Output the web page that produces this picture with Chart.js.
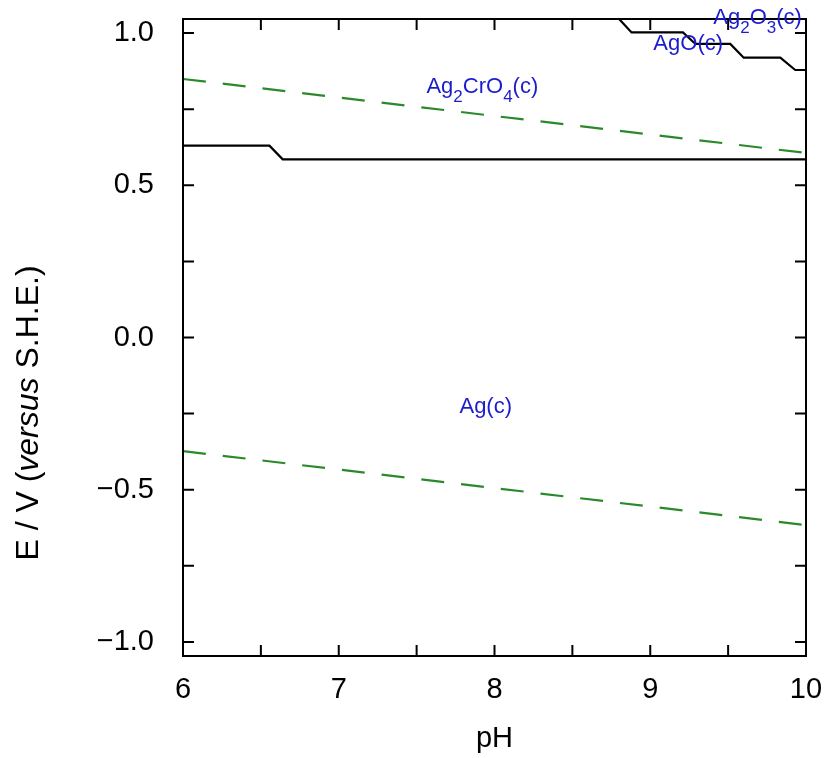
<!DOCTYPE html>
<html>
<head>
<meta charset="utf-8">
<script src="https://cdn.jsdelivr.net/npm/chart.js@4.4.0/dist/chart.umd.min.js"></script>
<style>
  html, body { margin: 0; padding: 0; background: #fff; }
  canvas { display: block; }
</style>
</head>
<body>
<canvas id="c" width="827" height="758"></canvas>
<script>
// ---- Data ----
const xTickLabels = [6, 7, 8, 9, 10];
const yTickLabels = [-1.0, -0.5, 0.0, 0.5, 1.0];
const xMinorTicks = [6, 6.5, 7, 7.5, 8, 8.5, 9, 9.5, 10];
const yMinorTicks = [-1.0, -0.75, -0.5, -0.25, 0, 0.25, 0.5, 0.75, 1.0];

// Ag(c) / Ag2CrO4(c) boundary (solid black)
const phLowBoundary = [6, 6.555, 6.64, 10];
const eLowBoundary  = [0.63, 0.63, 0.585, 0.585];

// Upper boundary (Ag2CrO4 / AgO / Ag2O3)
const phHighBoundary = [8.80, 8.88, 9.21, 9.29, 9.514, 9.60, 9.835, 9.931, 10];
const eHighBoundary  = [1.046, 1.002, 1.002, 0.964, 0.964, 0.919, 0.919, 0.8785, 0.8785];

// Water stability limits (dashed green)
const phWater = [6, 10];
const eO2 = [0.849, 0.606];
const eH2 = [-0.373, -0.616];

// Region labels ("_" marks a subscript character)
const labelTexts = ['Ag_2O_3(c)', 'AgO(c)', 'Ag_2CrO_4(c)', 'Ag(c)'];
const labelPH = [9.405, 9.02, 7.563, 7.775];
const labelE  = [1.03, 0.944, 0.802, -0.249];

const FONT = '"Liberation Sans", Arial, Helvetica, sans-serif';
const BLUE = 'rgb(28,28,205)';
const GREEN = '#2a8a2a';

function pts(xs, ys) { return xs.map((x, i) => ({x: x, y: ys[i]})); }

const framePlugin = {
  id: 'frame',
  afterDatasetsDraw(chart) {
    const {ctx, chartArea: a, scales: {x, y}} = chart;
    ctx.save();
    ctx.strokeStyle = '#000';
    ctx.lineWidth = 2;
    ctx.strokeRect(a.left, a.top, a.right - a.left, a.bottom - a.top);
    const L = 11;
    ctx.beginPath();
    xMinorTicks.forEach(v => {
      const px = x.getPixelForValue(v);
      ctx.moveTo(px, a.bottom); ctx.lineTo(px, a.bottom - L);
      ctx.moveTo(px, a.top); ctx.lineTo(px, a.top + L);
    });
    yMinorTicks.forEach(v => {
      const py = y.getPixelForValue(v);
      ctx.moveTo(a.left, py); ctx.lineTo(a.left + L, py);
      ctx.moveTo(a.right, py); ctx.lineTo(a.right - L, py);
    });
    ctx.stroke();

    // region labels
    ctx.fillStyle = BLUE;
    ctx.textBaseline = 'alphabetic';
    ctx.textAlign = 'left';
    labelTexts.forEach((t, i) => {
      let px = x.getPixelForValue(labelPH[i]);
      const py = y.getPixelForValue(labelE[i]);
      for (let k = 0; k < t.length; k++) {
        let ch = t[k], sub = false;
        if (ch === '_') { sub = true; k++; ch = t[k]; }
        ctx.font = (sub ? '17px ' : '22px ') + FONT;
        ctx.fillText(ch, px, py + (sub ? 9 : 0));
        px += ctx.measureText(ch).width;
      }
    });

    // y axis title with italic part
    const parts = [['E / V (', ''], ['versus', 'italic '], [' S.H.E.)', '']];
    ctx.fillStyle = '#000';
    ctx.save();
    ctx.translate(29, 413);
    ctx.rotate(-Math.PI / 2);
    let total = 0;
    parts.forEach(p => { ctx.font = p[1] + '32px ' + FONT; total += ctx.measureText(p[0]).width; });
    let cx = -total / 2;
    ctx.textBaseline = 'middle';
    parts.forEach(p => {
      ctx.font = p[1] + '32px ' + FONT;
      ctx.fillText(p[0], cx, 0);
      cx += ctx.measureText(p[0]).width;
    });
    ctx.restore();
    ctx.restore();
  }
};

function noPad(s) { s.paddingTop = 0; s.paddingBottom = 0; s.paddingLeft = 0; s.paddingRight = 0; }

new Chart(document.getElementById('c'), {
  type: 'scatter',
  data: {
    datasets: [
      { data: pts(phWater, eO2), showLine: true, borderColor: GREEN, borderWidth: 2.2, borderDash: [23, 17], pointRadius: 0 },
      { data: pts(phWater, eH2), showLine: true, borderColor: GREEN, borderWidth: 2.2, borderDash: [23, 17], pointRadius: 0 },
      { data: pts(phLowBoundary, eLowBoundary), showLine: true, borderColor: '#000', borderWidth: 2.2, pointRadius: 0 },
      { data: pts(phHighBoundary, eHighBoundary), showLine: true, borderColor: '#000', borderWidth: 2.2, pointRadius: 0 }
    ]
  },
  options: {
    responsive: false,
    devicePixelRatio: 1,
    animation: false,
    layout: { padding: { top: 19, right: 21, left: 0, bottom: 0 } },
    plugins: { legend: { display: false }, tooltip: { enabled: false } },
    scales: {
      x: {
        type: 'linear', min: 6, max: 10,
        afterFit(s) { s.height = 102; noPad(s); },
        afterBuildTicks(s) { s.ticks = xTickLabels.map(v => ({value: v})); },
        grid: { display: false, drawTicks: false },
        border: { display: false },
        ticks: { padding: 17, color: '#000', font: { family: FONT, size: 29 }, maxRotation: 0,
                 callback: v => String(v) },
        title: { display: true, text: 'pH', color: '#000', font: { family: FONT, size: 29 }, padding: { top: 0, bottom: 2 } }
      },
      y: {
        type: 'linear', min: -1.046, max: 1.046,
        afterFit(s) { s.width = 183; noPad(s); },
        afterBuildTicks(s) { s.ticks = yTickLabels.map(v => ({value: v})); },
        grid: { display: false, drawTicks: false },
        border: { display: false },
        ticks: { padding: 29, color: '#000', font: { family: FONT, size: 29 },
                 callback: v => (v < 0 ? '\u2212' : '') + Math.abs(v).toFixed(1) }
      }
    }
  },
  plugins: [framePlugin]
});
</script>
</body>
</html>
